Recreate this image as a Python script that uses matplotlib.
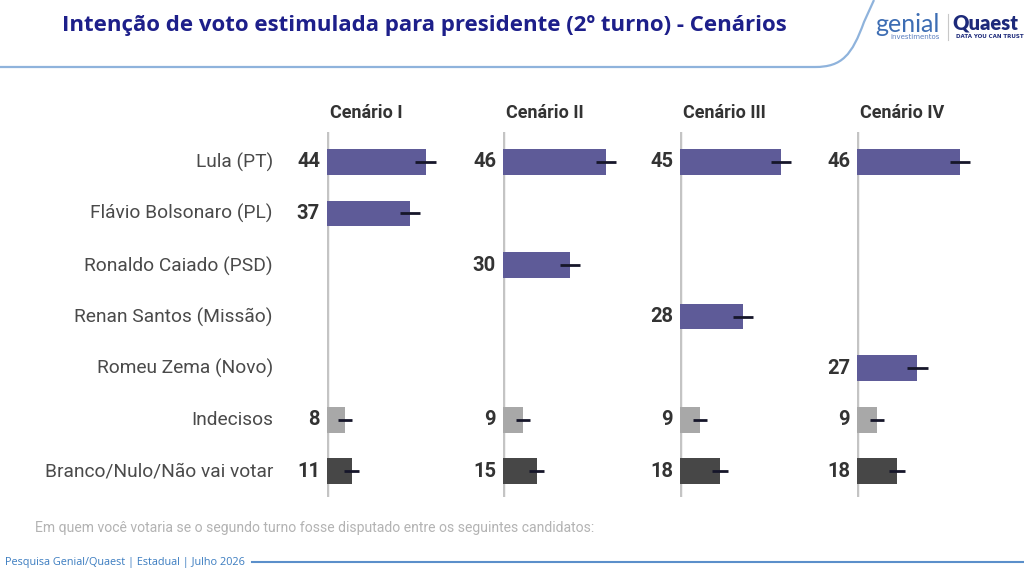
import numpy as np
import matplotlib
matplotlib.use("Agg")
import matplotlib.pyplot as plt
from matplotlib.path import Path
from matplotlib.patches import PathPatch

# Dados
candidatos = ["Lula (PT)", "Flávio Bolsonaro (PL)", "Ronaldo Caiado (PSD)",
              "Renan Santos (Missão)", "Romeu Zema (Novo)", "Indecisos",
              "Branco/Nulo/Não vai votar"]
cenarios = ["Cenário I", "Cenário II", "Cenário III", "Cenário IV"]
cenario_1 = [44, 37, None, None, None, 8, 11]
cenario_2 = [46, None, 30, None, None, 9, 15]
cenario_3 = [45, None, None, 28, None, 9, 18]
cenario_4 = [46, None, None, None, 27, 9, 18]
margem = [4.5, 4.5, 4.5, 4.5, 4.5, 3, 3.5]

valores = [cenario_1, cenario_2, cenario_3, cenario_4]

W, H = 1024, 572
fig = plt.figure(figsize=(W / 100, H / 100), dpi=100)
fig.patch.set_facecolor("white")

def fx(x):
    return x / W

def fy(y):
    return 1 - y / H

cor_barra = ["#5e5b98"] * 5 + ["#a8a8a8", "#474747"]

# Título
fig.text(fx(62), fy(25), "Intenção de voto estimulada para presidente (2º turno) - Cenários",
         fontsize=16, fontweight="bold", color="#1d1f8a", family="Open Sans",
         ha="left", va="center")

# Linha curva do cabeçalho
verts = [(0, 67), (815, 67), (842, 67), (852, 55), (864, 22), (874, 0)]
path = Path([(fx(x), fy(y)) for x, y in verts],
            [Path.MOVETO, Path.LINETO, Path.CURVE4, Path.CURVE4, Path.CURVE4, Path.LINETO])
fig.patches.append(PathPatch(path, transform=fig.transFigure, fill=False,
                             edgecolor="#8fb3dc", lw=1.6))

# Logos (texto)
fig.text(fx(875), fy(24), "genial", fontsize=18, color="#3d6db3", family="Lato",
         ha="left", va="center")
fig.text(fx(890), fy(37), "investimentos", fontsize=5, color="#5a7fbf", ha="left", va="center")
fig.add_artist(plt.Line2D([fx(948), fx(948)], [fy(14), fy(40)], color="#c8c8c8", lw=0.8))
fig.text(fx(952), fy(23), "Quaest", fontsize=14.5, fontweight="heavy", color="#1d2a7a",
         family="Lato", ha="left", va="center")
fig.text(fx(956), fy(37), "DATA YOU CAN TRUST", fontsize=4, fontweight="bold",
         color="#1d2a7a", ha="left", va="center")

# Painéis
eixo_x = [327, 503, 680, 857]
larg_px = 165
escala = 2.24
topo, base = 132, 497
y = np.arange(len(candidatos))

for i, (nome, vals) in enumerate(zip(cenarios, valores)):
    ax = fig.add_axes([fx(eixo_x[i]), fy(base), larg_px / W, (base - topo) / H])
    ax.set_xlim(0, larg_px / escala)
    ax.set_ylim(6.5, -0.58)
    ax.axis("off")
    ax.axvline(0, color="#c4c4c4", lw=2.5, zorder=1)
    for j, v in enumerate(vals):
        if v is None:
            continue
        ax.barh(y[j], v, height=0.5, color=cor_barra[j], zorder=2)
        ax.plot([v - margem[j], v + margem[j]], [y[j], y[j]], color="#16162a",
                lw=2, solid_capstyle="butt", zorder=3)
        ax.text(-3.1, y[j], str(v), ha="right", va="center", fontsize=14.5,
                fontweight="bold", color="#333333", family="Roboto", clip_on=False)
    fig.text(fx(eixo_x[i] + 3), fy(113), nome, fontsize=13, fontweight="bold",
             color="#333333", family="Roboto", ha="left", va="center")

# Rótulos das categorias
linhas_y = [162, 213, 266, 317, 368, 420, 471]
for nome, yy in zip(candidatos, linhas_y):
    fig.text(fx(273), fy(yy), nome, fontsize=13.8, color="#4a4a4a", family="Roboto",
             ha="right", va="center")

# Nota
fig.text(fx(35), fy(528), "Em quem você votaria se o segundo turno fosse disputado entre os seguintes candidatos:",
         fontsize=10.1, color="#b3b3b3", family="Roboto", ha="left", va="center")

# Rodapé
fig.text(fx(5), fy(562), "Pesquisa Genial/Quaest | Estadual | Julho 2026",
         fontsize=7.8, color="#3b7cc0", family="Open Sans", ha="left", va="center")
fig.add_artist(plt.Line2D([fx(252), fx(1024)], [fy(562), fy(562)], color="#5b8fca", lw=1.5))

fig.savefig("out.png", dpi=100)
